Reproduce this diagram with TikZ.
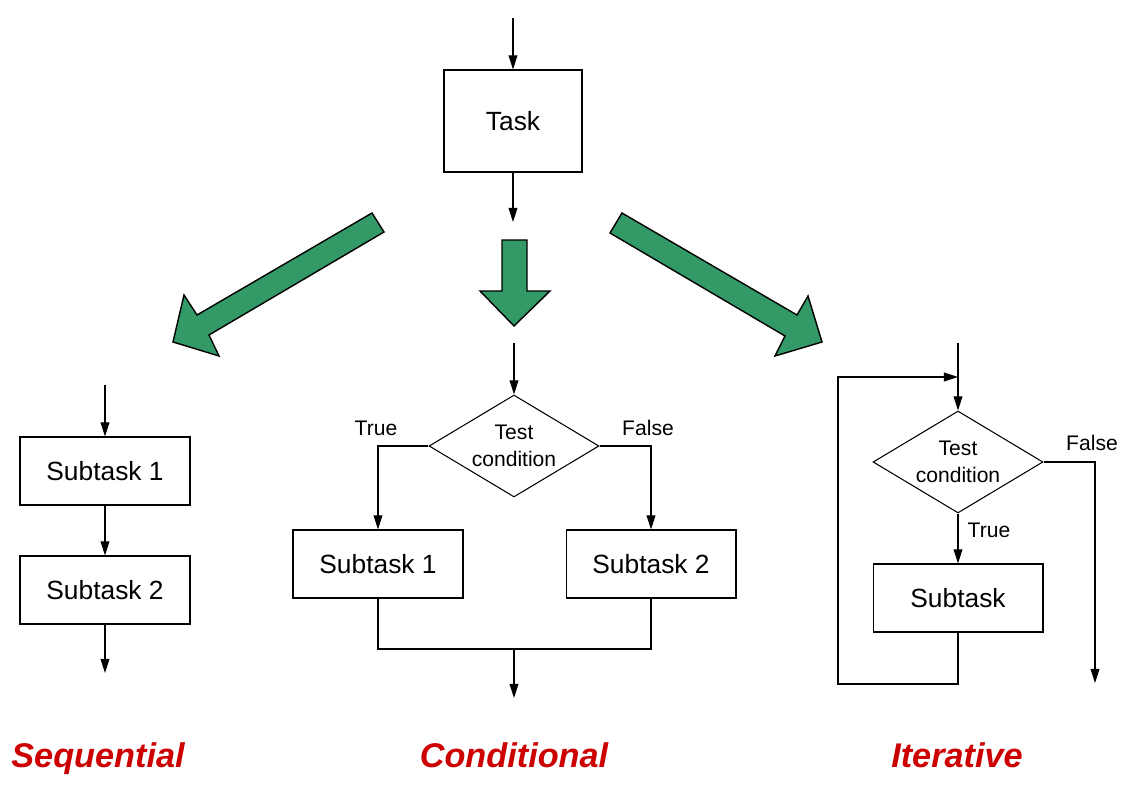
\documentclass[tikz,border=0pt]{standalone}
\usepackage{fontspec}
\setmainfont{Liberation Sans}
\usetikzlibrary{shapes.geometric,arrows.meta}
\definecolor{arrowgreen}{RGB}{51,153,102}
\definecolor{titlered}{RGB}{204,0,0}
\begin{document}
\begin{tikzpicture}[x=0.02cm,y=-0.02cm,
  line width=0.6pt,
  box/.style={draw,rectangle,minimum width=3.4cm,minimum height=1.36cm,inner sep=0pt,font=\fontsize{15}{18}\selectfont},
  cond/.style={draw,diamond,aspect=1.667,minimum width=3.4cm,minimum height=2.04cm,inner sep=0pt,align=center,font=\fontsize{12}{15.5}\selectfont},
  lbl/.style={font=\fontsize{12}{14}\selectfont,inner sep=0pt},
  title/.style={font=\fontsize{19.5}{22}\selectfont\bfseries\itshape,text=titlered,inner sep=0pt,anchor=base},
  arr/.style={-{Triangle[length=8pt,width=5pt]}},
  bigarrow/.style={fill=arrowgreen,draw=black,line width=0.8pt,line join=miter}]
\useasboundingbox (0,0) rectangle (1138,786);

% Task
\coordinate (tin) at (513,18);
\node[box,minimum width=2.76cm,minimum height=2.04cm] (task) at (513,121) {Task};
\coordinate (tout) at (513,222);
\draw[arr] (tin) -- (task.north);
\draw[arr] (task.south) -- (tout);

% green arrows
\draw[bigarrow] (372,213) -- (384,232) -- (209,335) -- (219,356) -- (173,342) -- (184,295) -- (197,315) -- cycle;
\draw[bigarrow] (502,240) -- (527,240) -- (527,291) -- (550,291) -- (514,326) -- (480,291) -- (502,291) -- cycle;
\draw[bigarrow] (622,213) -- (610,233) -- (785,336) -- (775,356) -- (822,342) -- (808,296) -- (797,315) -- cycle;

% Sequential
\coordinate (sin) at (105,385);
\node[box] (s1) at (105,471) {Subtask 1};
\node[box] (s2) at (105,590) {Subtask 2};
\coordinate (sout) at (105,673);
\draw[arr] (sin) -- (s1.north);
\draw[arr] (s1.south) -- (s2.north);
\draw[arr] (s2.south) -- (sout);
\node[title] (tseq) at (98,767) {Sequential};

% Conditional
\coordinate (cin) at (514,343);
\node[cond] (cd) at (514,446) {Test\\condition};
\node[box] (c1) at (378,564) {Subtask 1};
\node[box] (c2) at (651,564) {Subtask 2};
\coordinate (cj) at (514,649);
\coordinate (cout) at (514,698);
\draw[arr] (cin) -- (cd.north);
\draw[arr] (cd.west) -| (c1.north);
\draw[arr] (cd.east) -| (c2.north);
\draw (c1.south) |- (c2.south |- cj) -- (c2.south);
\draw[arr] (cj) -- (cout);
\node[lbl] (ctrue) at (376,428) {True};
\node[lbl] (cfalse) at (648,428) {False};
\node[title] (tcond) at (514,767) {Conditional};

% Iterative
\coordinate (iin) at (958,343);
\node[cond] (id) at (958,462) {Test\\condition};
\node[box] (is) at (958,598) {Subtask};
\coordinate (iloop) at (838,684);
\coordinate (itop) at (838,377);
\coordinate (ijoin) at (958,377);
\coordinate (ifr) at (1095,462);
\coordinate (iout) at (1095,683);
\draw[arr] (iin) -- (id.north);
\draw[arr] (id.south) -- (is.north);
\draw[arr] (is.south) |- (iloop) -- (itop) -- (ijoin);
\draw[arr] (id.east) -- (ifr) -- (iout);
\node[lbl] (ifalse) at (1092,443) {False};
\node[lbl] (itrue) at (989,530) {True};
\node[title] (titer) at (957,767) {Iterative};
\end{tikzpicture}
\end{document}
